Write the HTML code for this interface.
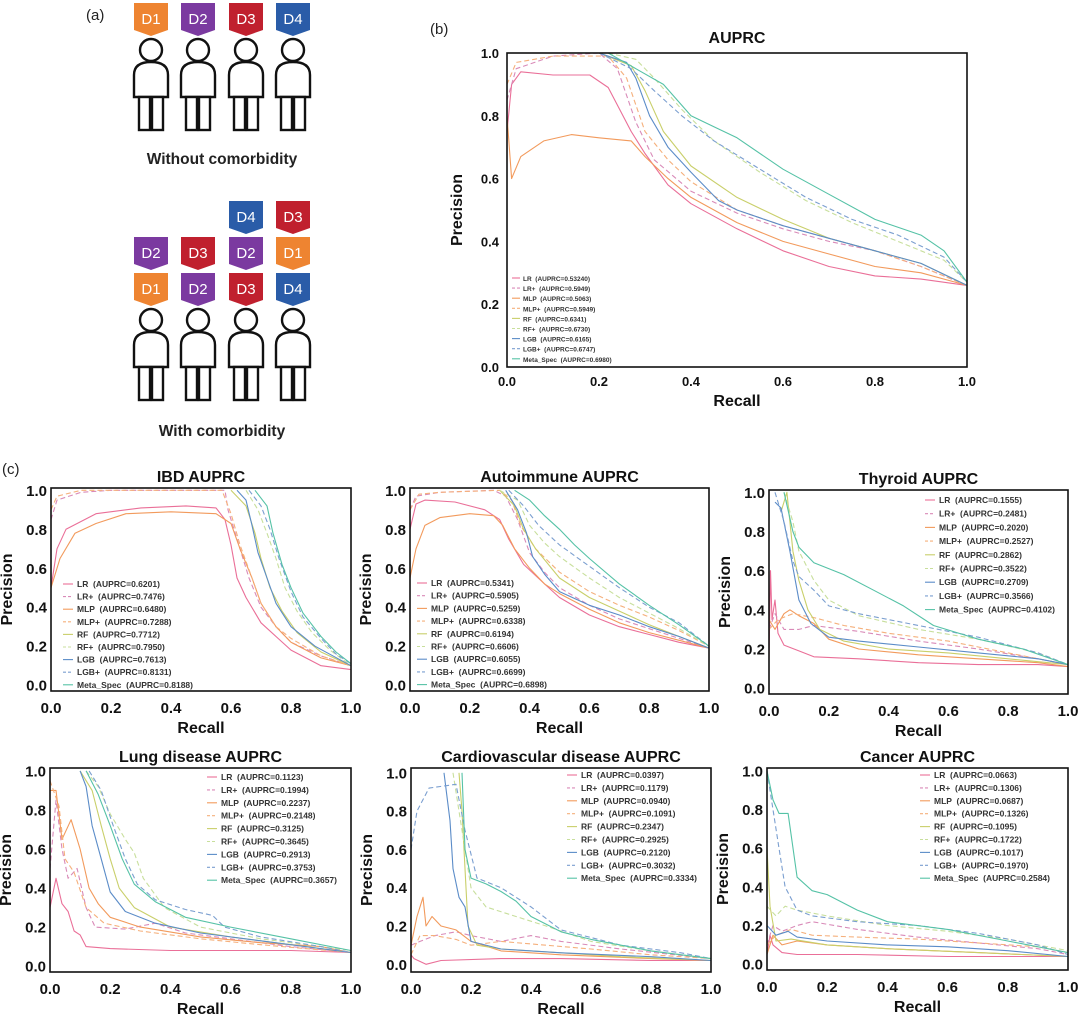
<!DOCTYPE html>
<html><head><meta charset="utf-8">
<style>
html,body{margin:0;padding:0;background:#fff;}
svg{display:block;font-family:"Liberation Sans",sans-serif;}
.tk{font-size:15px;font-weight:bold;fill:#111;}
.tkb{font-size:13px;font-weight:bold;fill:#111;}
.ax{font-size:16px;font-weight:bold;fill:#111;}
.ti{font-size:16px;font-weight:bold;fill:#111;}
.lg{font-size:8.5px;font-weight:bold;fill:#333;white-space:pre;}
.lgb{font-size:6.5px;font-weight:bold;fill:#333;white-space:pre;}
</style></head>
<body>
<svg id="fig" width="1080" height="1016" viewBox="0 0 1080 1016" xmlns="http://www.w3.org/2000/svg">
<g id="panel-a"></g>
<text x="86" y="20" font-size="15" fill="#222">(a)</text>
<text x="430" y="34" font-size="15" fill="#222">(b)</text>
<text x="2" y="474" font-size="15" fill="#222">(c)</text>
<text x="222" y="164" font-size="15.5" font-weight="bold" text-anchor="middle" fill="#222">Without comorbidity</text>
<text x="222" y="436" font-size="15.5" font-weight="bold" text-anchor="middle" fill="#222">With comorbidity</text>
<g id="charts"></g>
</svg>
<script>
// ---------- series definitions ----------
const seriesNames=['LR','LR+','MLP','MLP+','RF','RF+','LGB','LGB+','Meta_Spec'];
// ---------- panel (b) overall ----------
const all_LR=[[0,0.75],[0.01,0.9],[0.03,0.94],[0.1,0.93],[0.18,0.93],[0.22,0.89],[0.27,0.75],[0.3,0.68],[0.35,0.58],[0.4,0.52],[0.5,0.44],[0.6,0.37],[0.7,0.32],[0.8,0.29],[0.9,0.28],[1,0.26]];
const all_LRp=[[0,0.85],[0.02,0.95],[0.1,0.99],[0.2,1.0],[0.24,0.95],[0.28,0.78],[0.32,0.66],[0.4,0.56],[0.5,0.49],[0.6,0.44],[0.7,0.4],[0.8,0.37],[0.9,0.32],[1,0.26]];
const all_MLP=[[0,0.8],[0.01,0.6],[0.03,0.67],[0.08,0.72],[0.14,0.74],[0.2,0.73],[0.27,0.72],[0.3,0.67],[0.35,0.6],[0.4,0.54],[0.5,0.46],[0.6,0.40],[0.7,0.36],[0.8,0.32],[0.9,0.3],[1,0.26]];
const all_MLPp=[[0,0.9],[0.02,0.97],[0.1,0.99],[0.22,0.99],[0.26,0.92],[0.3,0.75],[0.35,0.66],[0.4,0.59],[0.5,0.5],[0.6,0.45],[0.7,0.41],[0.8,0.37],[0.9,0.32],[1,0.26]];
const all_RF=[[0.2,1.0],[0.27,0.96],[0.3,0.88],[0.34,0.75],[0.4,0.64],[0.5,0.54],[0.6,0.47],[0.7,0.41],[0.8,0.37],[0.9,0.33],[1,0.26]];
const all_RFp=[[0.22,1.0],[0.28,0.98],[0.32,0.92],[0.38,0.82],[0.45,0.72],[0.55,0.62],[0.65,0.53],[0.75,0.46],[0.85,0.40],[0.95,0.34],[1,0.27]];
const all_LGB=[[0.2,1.0],[0.26,0.97],[0.28,0.92],[0.31,0.8],[0.35,0.7],[0.4,0.62],[0.46,0.53],[0.5,0.5],[0.6,0.45],[0.7,0.41],[0.8,0.37],[0.9,0.33],[1,0.26]];
const all_LGBp=[[0.2,1.0],[0.27,0.95],[0.32,0.88],[0.38,0.8],[0.45,0.72],[0.55,0.63],[0.65,0.54],[0.75,0.47],[0.85,0.42],[0.95,0.35],[1,0.27]];
const all_Meta=[[0.22,1.0],[0.28,0.95],[0.34,0.9],[0.4,0.8],[0.5,0.73],[0.6,0.63],[0.7,0.55],[0.8,0.47],[0.9,0.42],[0.95,0.37],[1,0.27]];
const all_auprc=['0.53240','0.5949','0.5063','0.5949','0.6341','0.6730','0.6165','0.6747','0.6980'];
// ---------- IBD ----------
const ibd_LR=[[0,0.5],[0.02,0.7],[0.05,0.8],[0.15,0.88],[0.3,0.91],[0.45,0.92],[0.55,0.91],[0.58,0.85],[0.6,0.72],[0.62,0.55],[0.65,0.45],[0.7,0.32],[0.75,0.25],[0.8,0.18],[0.9,0.1],[1,0.08]];
const ibd_LRp=[[0,0.85],[0.02,0.95],[0.1,0.99],[0.2,1.0],[0.58,1.0],[0.59,0.9],[0.62,0.75],[0.66,0.55],[0.7,0.4],[0.75,0.3],[0.8,0.22],[0.9,0.15],[1,0.1]];
const ibd_MLP=[[0,0.5],[0.03,0.65],[0.08,0.78],[0.15,0.83],[0.25,0.88],[0.4,0.89],[0.55,0.88],[0.6,0.83],[0.63,0.7],[0.67,0.55],[0.7,0.42],[0.75,0.3],[0.8,0.22],[0.9,0.14],[1,0.1]];
const ibd_MLPp=[[0,0.9],[0.02,0.97],[0.1,1.0],[0.57,1.0],[0.6,0.88],[0.63,0.72],[0.67,0.55],[0.7,0.42],[0.75,0.3],[0.8,0.24],[0.9,0.15],[1,0.1]];
const ibd_RF=[[0.6,1.0],[0.65,0.92],[0.68,0.78],[0.7,0.65],[0.73,0.5],[0.77,0.38],[0.82,0.27],[0.9,0.17],[1,0.1]];
const ibd_RFp=[[0.65,1.0],[0.69,0.9],[0.72,0.78],[0.75,0.65],[0.78,0.5],[0.82,0.38],[0.87,0.27],[0.93,0.18],[1,0.1]];
const ibd_LGB=[[0.62,1.0],[0.65,0.95],[0.67,0.82],[0.69,0.68],[0.72,0.55],[0.75,0.42],[0.8,0.3],[0.88,0.2],[1,0.1]];
const ibd_LGBp=[[0.66,1.0],[0.7,0.92],[0.73,0.8],[0.76,0.65],[0.8,0.48],[0.84,0.35],[0.9,0.24],[0.95,0.16],[1,0.11]];
const ibd_Meta=[[0.68,1.0],[0.72,0.92],[0.74,0.78],[0.77,0.62],[0.8,0.5],[0.84,0.37],[0.9,0.25],[0.95,0.17],[1,0.11]];
const ibd_auprc=['0.6201','0.7476','0.6480','0.7288','0.7712','0.7950','0.7613','0.8131','0.8188'];
// ---------- Autoimmune ----------
const aut_LR=[[0,0.8],[0.02,0.93],[0.05,0.95],[0.15,0.94],[0.25,0.9],[0.3,0.85],[0.33,0.75],[0.38,0.62],[0.45,0.52],[0.5,0.45],[0.6,0.36],[0.7,0.3],[0.8,0.26],[0.9,0.22],[1,0.19]];
const aut_LRp=[[0,0.9],[0.02,0.97],[0.1,0.99],[0.28,1.0],[0.32,0.97],[0.36,0.85],[0.4,0.68],[0.45,0.58],[0.5,0.5],[0.6,0.41],[0.7,0.34],[0.8,0.29],[0.9,0.24],[1,0.19]];
const aut_MLP=[[0,0.55],[0.02,0.7],[0.05,0.82],[0.1,0.86],[0.2,0.88],[0.28,0.87],[0.31,0.82],[0.35,0.7],[0.4,0.6],[0.45,0.52],[0.5,0.47],[0.6,0.39],[0.7,0.32],[0.8,0.27],[0.9,0.23],[1,0.19]];
const aut_MLPp=[[0,0.9],[0.03,0.98],[0.1,0.99],[0.3,1.0],[0.34,0.95],[0.37,0.82],[0.42,0.7],[0.5,0.58],[0.6,0.48],[0.7,0.41],[0.8,0.35],[0.9,0.28],[1,0.2]];
const aut_RF=[[0.3,1.0],[0.35,0.92],[0.38,0.8],[0.42,0.7],[0.5,0.55],[0.6,0.45],[0.7,0.38],[0.8,0.31],[0.9,0.25],[1,0.19]];
const aut_RFp=[[0.3,1.0],[0.36,0.95],[0.4,0.82],[0.45,0.73],[0.5,0.66],[0.6,0.55],[0.7,0.45],[0.8,0.37],[0.9,0.29],[1,0.2]];
const aut_LGB=[[0.32,1.0],[0.36,0.9],[0.39,0.78],[0.41,0.66],[0.45,0.57],[0.5,0.48],[0.6,0.41],[0.7,0.36],[0.8,0.3],[0.9,0.25],[1,0.19]];
const aut_LGBp=[[0.33,1.0],[0.38,0.92],[0.43,0.82],[0.5,0.72],[0.6,0.61],[0.7,0.5],[0.8,0.4],[0.9,0.32],[1,0.2]];
const aut_Meta=[[0.35,1.0],[0.4,0.95],[0.45,0.87],[0.5,0.8],[0.55,0.72],[0.6,0.65],[0.7,0.52],[0.8,0.41],[0.9,0.31],[1,0.2]];
const aut_auprc=['0.5341','0.5905','0.5259','0.6338','0.6194','0.6606','0.6055','0.6699','0.6898'];
// ---------- Thyroid ----------
const thy_LR=[[0,0.15],[0.005,0.6],[0.01,0.35],[0.02,0.45],[0.03,0.28],[0.05,0.22],[0.1,0.19],[0.15,0.16],[0.3,0.15],[0.5,0.13],[0.7,0.12],[0.9,0.12],[1,0.11]];
const thy_LRp=[[0,0.3],[0.02,0.38],[0.05,0.3],[0.1,0.3],[0.15,0.32],[0.3,0.29],[0.5,0.24],[0.7,0.2],[0.9,0.15],[1,0.12]];
const thy_MLP=[[0,0.35],[0.02,0.3],[0.05,0.38],[0.07,0.4],[0.1,0.37],[0.15,0.33],[0.2,0.25],[0.3,0.2],[0.5,0.17],[0.7,0.15],[0.9,0.13],[1,0.11]];
const thy_MLPp=[[0,0.3],[0.03,0.35],[0.08,0.38],[0.15,0.36],[0.25,0.32],[0.4,0.28],[0.6,0.24],[0.8,0.18],[1,0.12]];
const thy_RF=[[0.04,0.9],[0.06,1.0],[0.08,0.7],[0.1,0.55],[0.13,0.4],[0.17,0.3],[0.25,0.24],[0.4,0.2],[0.6,0.18],[0.8,0.15],[1,0.12]];
const thy_RFp=[[0.05,1.0],[0.08,0.85],[0.1,0.7],[0.15,0.55],[0.2,0.45],[0.3,0.37],[0.5,0.3],[0.7,0.25],[0.9,0.18],[1,0.12]];
const thy_LGB=[[0.02,0.95],[0.04,0.92],[0.07,0.7],[0.1,0.45],[0.14,0.33],[0.2,0.26],[0.3,0.24],[0.5,0.21],[0.7,0.18],[0.9,0.15],[1,0.12]];
const thy_LGBp=[[0.02,1.0],[0.05,0.85],[0.08,0.65],[0.1,0.57],[0.15,0.5],[0.2,0.42],[0.3,0.38],[0.5,0.32],[0.7,0.26],[0.9,0.18],[1,0.12]];
const thy_Meta=[[0.05,1.0],[0.08,0.8],[0.1,0.72],[0.15,0.64],[0.25,0.58],[0.35,0.5],[0.45,0.42],[0.55,0.32],[0.7,0.25],[0.85,0.2],[1,0.12]];
const thy_auprc=['0.1555','0.2481','0.2020','0.2527','0.2862','0.3522','0.2709','0.3566','0.4102'];
// ---------- Lung ----------
const lun_LR=[[0,0.3],[0.02,0.45],[0.04,0.32],[0.06,0.28],[0.08,0.18],[0.1,0.16],[0.12,0.1],[0.2,0.09],[0.4,0.08],[0.6,0.08],[0.8,0.08],[1,0.07]];
const lun_LRp=[[0,0.5],[0.02,0.85],[0.04,0.6],[0.06,0.45],[0.09,0.5],[0.12,0.3],[0.15,0.2],[0.25,0.19],[0.35,0.22],[0.45,0.17],[0.6,0.14],[0.8,0.1],[1,0.07]];
const lun_MLP=[[0,0.9],[0.02,0.9],[0.04,0.65],[0.07,0.75],[0.1,0.6],[0.13,0.4],[0.16,0.32],[0.2,0.25],[0.3,0.2],[0.5,0.15],[0.7,0.12],[0.9,0.1],[1,0.07]];
const lun_MLPp=[[0,0.95],[0.03,0.82],[0.05,0.55],[0.08,0.48],[0.12,0.3],[0.18,0.22],[0.3,0.18],[0.5,0.14],[0.7,0.11],[1,0.07]];
const lun_RF=[[0.1,1.0],[0.14,0.9],[0.17,0.72],[0.2,0.55],[0.23,0.4],[0.28,0.3],[0.4,0.2],[0.6,0.15],[0.8,0.11],[1,0.07]];
const lun_RFp=[[0.12,1.0],[0.16,0.92],[0.2,0.78],[0.25,0.65],[0.28,0.58],[0.31,0.45],[0.38,0.3],[0.5,0.2],[0.7,0.14],[1,0.08]];
const lun_LGB=[[0.1,1.0],[0.12,0.92],[0.14,0.72],[0.17,0.55],[0.2,0.38],[0.25,0.28],[0.35,0.22],[0.5,0.17],[0.7,0.13],[1,0.07]];
const lun_LGBp=[[0.13,1.0],[0.17,0.9],[0.21,0.72],[0.25,0.55],[0.29,0.42],[0.35,0.34],[0.45,0.29],[0.54,0.26],[0.58,0.2],[0.7,0.15],[0.9,0.1],[1,0.07]];
const lun_Meta=[[0.12,1.0],[0.16,0.88],[0.2,0.72],[0.24,0.55],[0.28,0.42],[0.35,0.33],[0.45,0.25],[0.6,0.2],[0.8,0.14],[1,0.08]];
const lun_auprc=['0.1123','0.1994','0.2237','0.2148','0.3125','0.3645','0.2913','0.3753','0.3657'];
// ---------- Cardiovascular ----------
const car_LR=[[0,0.05],[0.01,0.03],[0.05,0.0],[0.1,0.02],[0.3,0.03],[0.5,0.03],[0.8,0.02],[1,0.02]];
const car_LRp=[[0,0.1],[0.03,0.12],[0.08,0.15],[0.15,0.17],[0.2,0.15],[0.3,0.12],[0.4,0.15],[0.5,0.12],[0.7,0.08],[1,0.03]];
const car_MLP=[[0,0.1],[0.02,0.25],[0.04,0.35],[0.05,0.2],[0.07,0.25],[0.1,0.2],[0.15,0.18],[0.2,0.12],[0.3,0.07],[0.5,0.05],[0.8,0.03],[1,0.02]];
const car_MLPp=[[0,0.05],[0.03,0.15],[0.08,0.15],[0.15,0.13],[0.2,0.1],[0.3,0.12],[0.45,0.1],[0.6,0.08],[0.8,0.05],[1,0.03]];
const car_RF=[[0.16,1.0],[0.17,0.8],[0.18,0.5],[0.19,0.2],[0.22,0.1],[0.3,0.08],[0.5,0.06],[0.7,0.04],[1,0.02]];
const car_RFp=[[0.14,1.0],[0.16,0.8],[0.18,0.6],[0.2,0.4],[0.25,0.3],[0.35,0.25],[0.45,0.2],[0.6,0.12],[0.8,0.07],[1,0.03]];
const car_LGB=[[0.11,1.0],[0.13,0.75],[0.14,0.5],[0.16,0.35],[0.18,0.3],[0.2,0.12],[0.3,0.08],[0.5,0.06],[0.8,0.04],[1,0.02]];
const car_LGBp=[[0,0.6],[0.02,0.8],[0.06,0.92],[0.15,0.94],[0.18,0.7],[0.22,0.45],[0.3,0.4],[0.4,0.3],[0.5,0.18],[0.7,0.1],[0.9,0.06],[1,0.03]];
const car_Meta=[[0.17,1.0],[0.18,0.6],[0.2,0.45],[0.25,0.42],[0.3,0.38],[0.35,0.33],[0.4,0.25],[0.5,0.17],[0.6,0.13],[0.8,0.07],[1,0.03]];
const car_auprc=['0.0397','0.1179','0.0940','0.1091','0.2347','0.2925','0.2120','0.3032','0.3334'];
// ---------- Cancer ----------
const can_LR=[[0,0.05],[0.01,0.15],[0.02,0.1],[0.05,0.06],[0.1,0.05],[0.3,0.05],[0.6,0.04],[1,0.04]];
const can_LRp=[[0,0.1],[0.02,0.2],[0.05,0.17],[0.1,0.2],[0.15,0.22],[0.3,0.18],[0.5,0.14],[0.7,0.11],[0.9,0.08],[1,0.05]];
const can_MLP=[[0,0.05],[0.02,0.15],[0.05,0.1],[0.1,0.12],[0.2,0.1],[0.4,0.08],[0.7,0.06],[1,0.04]];
const can_MLPp=[[0,0.1],[0.03,0.15],[0.08,0.18],[0.15,0.15],[0.3,0.14],[0.5,0.13],[0.7,0.11],[0.9,0.09],[1,0.06]];
const can_RF=[[0,0.6],[0.01,0.3],[0.03,0.12],[0.08,0.13],[0.2,0.1],[0.4,0.08],[0.7,0.06],[1,0.04]];
const can_RFp=[[0,0.3],[0.03,0.25],[0.06,0.3],[0.1,0.28],[0.2,0.25],[0.4,0.2],[0.6,0.17],[0.8,0.13],[1,0.07]];
const can_LGB=[[0,0.2],[0.03,0.15],[0.07,0.17],[0.1,0.14],[0.2,0.12],[0.4,0.1],[0.6,0.09],[0.8,0.07],[1,0.04]];
const can_LGBp=[[0,1.0],[0.02,0.8],[0.04,0.6],[0.06,0.4],[0.1,0.28],[0.15,0.25],[0.3,0.22],[0.5,0.2],[0.7,0.16],[0.9,0.1],[1,0.05]];
const can_Meta=[[0,1.0],[0.02,0.85],[0.04,0.78],[0.07,0.78],[0.1,0.45],[0.15,0.38],[0.2,0.36],[0.3,0.28],[0.4,0.22],[0.6,0.18],[0.8,0.12],[1,0.06]];
const can_auprc=['0.0663','0.1306','0.0687','0.1326','0.1095','0.1722','0.1017','0.1970','0.2584'];
const tickValues=[0,0.2,0.4,0.6,0.8,1.0];
const tickLabels=['0.0','0.2','0.4','0.6','0.8','1.0'];

// ---------- styles ----------
const colors=['#ea6f98','#d98ab8','#f29a5c','#f5b07c','#c9cf6a','#c8df9c','#5b8cc8','#7b9fd0','#55c2a6'];
const dashes=[null,'5,3',null,'5,3',null,'5,3',null,'5,3',null];
const NS='http://www.w3.org/2000/svg';
function mk(tag,attrs,parent){const e=document.createElementNS(NS,tag);for(const k in attrs)e.setAttribute(k,attrs[k]);if(parent)parent.appendChild(e);return e;}

const panels=[
 {id:'overall',title:'AUPRC',x0:507,x1:967,y0:53,y1:367,ymin:0,ymax:1,small:true,series:[all_LR,all_LRp,all_MLP,all_MLPp,all_RF,all_RFp,all_LGB,all_LGBp,all_Meta],auprc:all_auprc,lgx:512,lgy:278,lgdy:10.1},
 {id:'ibd',title:'IBD AUPRC',x0:51,x1:351,y0:488,y1:691,ymin:-0.03,ymax:1.012,series:[ibd_LR,ibd_LRp,ibd_MLP,ibd_MLPp,ibd_RF,ibd_RFp,ibd_LGB,ibd_LGBp,ibd_Meta],auprc:ibd_auprc,lgx:63,lgy:584,lgdy:12.6},
 {id:'autoimmune',title:'Autoimmune AUPRC',x0:410,x1:709,y0:488,y1:691,ymin:-0.03,ymax:1.012,series:[aut_LR,aut_LRp,aut_MLP,aut_MLPp,aut_RF,aut_RFp,aut_LGB,aut_LGBp,aut_Meta],auprc:aut_auprc,lgx:417,lgy:583,lgdy:12.7},
 {id:'thyroid',title:'Thyroid AUPRC',x0:769,x1:1068,y0:490,y1:694,ymin:-0.03,ymax:1.012,series:[thy_LR,thy_LRp,thy_MLP,thy_MLPp,thy_RF,thy_RFp,thy_LGB,thy_LGBp,thy_Meta],auprc:thy_auprc,lgx:925,lgy:500,lgdy:13.7},
 {id:'lung',title:'Lung disease AUPRC',x0:50,x1:351,y0:768,y1:972,ymin:-0.03,ymax:1.015,series:[lun_LR,lun_LRp,lun_MLP,lun_MLPp,lun_RF,lun_RFp,lun_LGB,lun_LGBp,lun_Meta],auprc:lun_auprc,lgx:207,lgy:777,lgdy:12.9},
 {id:'cardio',title:'Cardiovascular disease AUPRC',x0:411,x1:711,y0:768,y1:972,ymin:-0.04,ymax:1.025,series:[car_LR,car_LRp,car_MLP,car_MLPp,car_RF,car_RFp,car_LGB,car_LGBp,car_Meta],auprc:car_auprc,lgx:567,lgy:775,lgdy:12.9},
 {id:'cancer',title:'Cancer AUPRC',x0:767,x1:1068,y0:768,y1:970,ymin:-0.03,ymax:1.015,series:[can_LR,can_LRp,can_MLP,can_MLPp,can_RF,can_RFp,can_LGB,can_LGBp,can_Meta],auprc:can_auprc,lgx:920,lgy:775,lgdy:12.9}
];

const root=document.getElementById('charts');
panels.forEach(p=>{
 const g=mk('g',{},root);
 
 
 const xs=v=>p.x0+(v-0)*(p.x1-p.x0);
 const ys=v=>p.y1-(v-p.ymin)/(p.ymax-p.ymin)*(p.y1-p.y0);
 const cp=mk('clipPath',{id:'clip-'+p.id},g);
 mk('rect',{x:p.x0,y:p.y0,width:p.x1-p.x0,height:p.y1-p.y0},cp);
 const tkc=p.small?'tkb':'tk';
 // ticks
 tickValues.forEach((v,i)=>{
  const tx=mk('text',{x:xs(v),y:p.y1+(p.small?19:22),'text-anchor':'middle',class:tkc},g);
  
  
  tx.textContent=tickLabels[i];
  const ty=mk('text',{x:p.x0-(p.small?8:4),y:ys(v)+(p.small?5:5.5),'text-anchor':'end',class:tkc},g);
  
  
  ty.textContent=tickLabels[i];
 });
 // lines
 const lg=mk('g',{'clip-path':'url(#clip-'+p.id+')'},g);
 p.series.forEach((s,i)=>{
  const d=s.map((pt,j)=>(j?'L':'M')+xs(pt[0]).toFixed(1)+','+ys(pt[1]).toFixed(1)).join('');
  const a={d:d,fill:'none',stroke:colors[i],'stroke-width':1.1,'stroke-linejoin':'round'};
  if(dashes[i])a['stroke-dasharray']=dashes[i];
  const path=mk('path',a,lg);
  
  
 });
 // frame
 const fr=mk('rect',{x:p.x0,y:p.y0,width:p.x1-p.x0,height:p.y1-p.y0,fill:'none',stroke:'#111','stroke-width':1.6},g);
 
 
 // title
 const t=mk('text',{x:(p.x0+p.x1)/2,y:p.y0-(p.small?10:6),'text-anchor':'middle',class:'ti','font-size':p.small?14:16},g);
 
 
 t.textContent=p.title;
 // axis labels
 const xl=mk('text',{x:(p.x0+p.x1)/2,y:p.y1+(p.small?39:42),'text-anchor':'middle',class:'ax','font-size':p.small?14:16},g);
 
 
 xl.textContent='Recall';
 const cy=(p.y0+p.y1)/2, cx=p.x0-(p.small?45:39);
 const yl=mk('text',{x:cx,y:cy,'text-anchor':'middle',class:'ax','font-size':p.small?14:16,transform:'rotate(-90 '+cx+' '+cy+')'},g);
 
 
 yl.textContent='Precision';
 // legend
 const L=mk('g',{},g);
 
 
 seriesNames.forEach((n,i)=>{
  const y=p.lgy+i*p.lgdy;
  const la={x1:p.lgx,x2:p.lgx+(p.small?8:10),y1:y,y2:y,stroke:colors[i],'stroke-width':1.1};
  if(dashes[i])la['stroke-dasharray']='3,2';
  mk('line',la,L);
  const tx=mk('text',{x:p.lgx+(p.small?11:14),y:y+3,class:p.small?'lgb':'lg'},L);
  
  
  tx.textContent=n+'  (AUPRC='+p.auprc[i]+')';
 });
});

// ---------- panel a ----------
const A=document.getElementById('panel-a');
const tagCol={D1:'#ee8431',D2:'#7b3aa0',D3:'#c0202e',D4:'#2a5ca8'};
const people=[151,198,246,293];
function tag(x,top,label){
 const g=mk('g',{},A);
 
 
 mk('polygon',{points:`${x-17},${top} ${x+17},${top} ${x+17},${top+27} ${x},${top+33} ${x-17},${top+27}`,fill:tagCol[label]},g);
 const t=mk('text',{x:x,y:top+21,'text-anchor':'middle','font-size':15,fill:'#fff'},g);
 t.textContent=label;
}
function person(x,head){
 const g=mk('g',{fill:'#fff',stroke:'#111','stroke-width':2.4},A);
 
 
 const b=head+12;
 mk('path',{d:`M${x-17},${b+35} L${x-17},${b+13} Q${x-17},${b} ${x},${b} Q${x+17},${b} ${x+17},${b+13} L${x+17},${b+35} Z`},g);
 mk('rect',{x:x-12,y:b+35,width:11,height:33},g);
 mk('rect',{x:x+1,y:b+35,width:11,height:33},g);
 mk('circle',{cx:x,cy:head,r:11},g);
}
people.forEach((x,i)=>{person(x,50);});
['D1','D2','D3','D4'].forEach((d,i)=>tag(people[i],3,d));
people.forEach(x=>person(x,320));
const stacks=[['D2','D1'],['D3','D2'],['D4','D2','D3'],['D3','D1','D4']];
stacks.forEach((s,i)=>{
 const n=s.length;
 s.forEach((d,j)=>{tag(people[i],273-(n-1-j)*36,d);});
});
</script>
</body></html>
